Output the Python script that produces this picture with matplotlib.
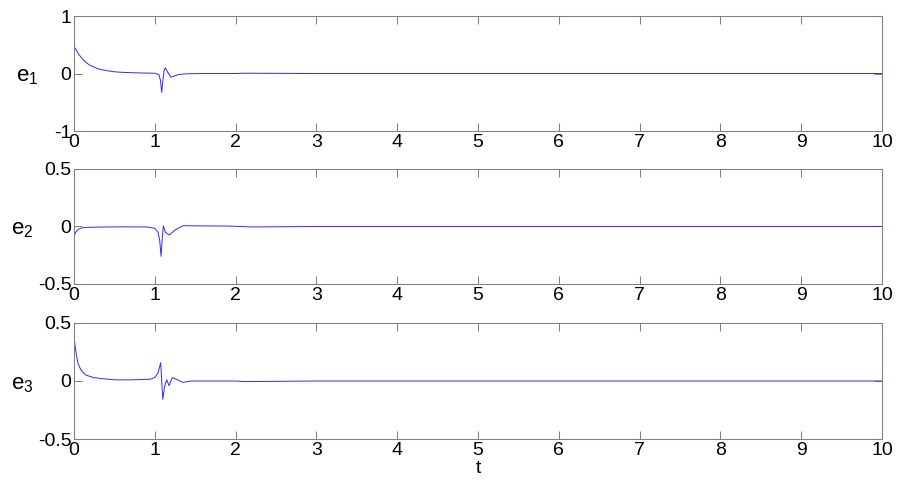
import matplotlib
matplotlib.use('Agg')
import matplotlib.pyplot as plt

plt.rcParams['font.family'] = ['Liberation Sans', 'DejaVu Sans']
plt.rcParams['mathtext.fontset'] = 'custom'
plt.rcParams['mathtext.rm'] = 'Liberation Sans'
plt.rcParams['mathtext.it'] = 'Liberation Sans'

# time samples and error values
t1 = [0.0, 0.03, 0.06, 0.1, 0.15, 0.2, 0.25, 0.3, 0.4, 0.5, 0.6, 0.8, 1.0, 1.05,
      1.07, 1.085, 1.1, 1.115, 1.13, 1.16, 1.2, 1.25, 1.3, 1.4, 1.6, 2.0, 2.1, 3.0, 5.0, 8.0, 10.0]
e1 = [0.47, 0.4, 0.33, 0.26, 0.19, 0.14, 0.11, 0.08, 0.05, 0.03, 0.02, 0.01, 0.005, -0.02,
      -0.12, -0.33, -0.12, 0.06, 0.1, 0.02, -0.065, -0.04, -0.015, -0.005, 0.0, 0.0, 0.005, 0.0, 0.0, 0.0, 0.0]

t2 = [0.0, 0.02, 0.05, 0.1, 0.15, 0.3, 0.6, 0.9, 1.0, 1.04, 1.06, 1.077, 1.09,
      1.105, 1.13, 1.18, 1.25, 1.35, 1.6, 1.9, 2.2, 3.0, 5.0, 8.0, 10.0]
e2 = [-0.09, -0.05, -0.025, -0.012, -0.008, -0.005, -0.003, -0.004, -0.016, -0.05, -0.12, -0.26, -0.12,
      0.005, -0.05, -0.074, -0.03, 0.007, 0.005, 0.004, -0.004, 0.0, 0.0, 0.0, 0.0]

t3 = [0.0, 0.01, 0.03, 0.05, 0.075, 0.1, 0.15, 0.24, 0.35, 0.5, 0.7, 0.94, 1.0, 1.04,
      1.073, 1.085, 1.098, 1.12, 1.147, 1.176, 1.217, 1.28, 1.35, 1.45, 2.0, 2.1, 3.0, 5.0, 8.0, 10.0]
e3 = [0.4, 0.32, 0.22, 0.15, 0.11, 0.08, 0.05, 0.03, 0.02, 0.01, 0.01, 0.015, 0.03, 0.07,
      0.158, 0.0, -0.158, -0.05, 0.01, -0.04, 0.03, 0.01, -0.012, 0.0, 0.0, -0.005, 0.0, 0.0, 0.0, 0.0]

series = [(t1, e1, r'$\mathrm{e}_1$', (-1, 1), [-1, 0, 1], ['-1', '0', '1'], -0.058),
          (t2, e2, r'$\mathrm{e}_2$', (-0.5, 0.5), [-0.5, 0, 0.5], ['-0.5', '0', '0.5'], -0.064),
          (t3, e3, r'$\mathrm{e}_3$', (-0.5, 0.5), [-0.5, 0, 0.5], ['-0.5', '0', '0.5'], -0.064)]

fig = plt.figure(figsize=(9.04, 4.82), dpi=100)

boxes = [[0.0819, 0.7282, 0.8938, 0.2386],
         [0.0819, 0.4108, 0.8938, 0.2386],
         [0.0819, 0.0892, 0.8938, 0.2407]]

for box, (t, e, lab, lim, yt, ytl, lx) in zip(boxes, series):
    ax = fig.add_axes(box)
    ax.plot(t, e, color='#2a2aff', linewidth=0.7)
    ax.set_xlim(0, 10)
    ax.set_ylim(*lim)
    ax.set_xticks(range(0, 11))
    ax.set_yticks(yt)
    ax.set_yticklabels(ytl)
    ax.tick_params(direction='in', length=5.5, width=0.75, color='#808080',
                   labelsize=14, top=True, right=True, pad=2)
    for s in ax.spines.values():
        s.set_color('#808080')
        s.set_linewidth(0.75)
    ax.set_ylabel(lab, rotation=0, fontsize=16, va='center', ha='center')
    ax.yaxis.set_label_coords(lx, 0.47)

ax.set_xlabel('t', fontsize=14, labelpad=1)

plt.savefig('out.png', dpi=100)
